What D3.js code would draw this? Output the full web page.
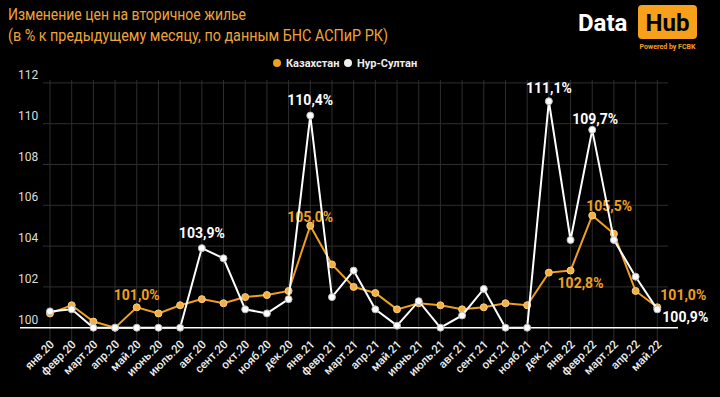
<!DOCTYPE html>
<html>
<head>
<meta charset="utf-8">
<script src="https://cdn.jsdelivr.net/npm/d3@7"></script>
<style>
  body { margin: 0; background: #000; }
  svg { display: block; font-family: Roboto, "Noto Sans", sans-serif; }
</style>
</head>
<body>
<div id="chart"></div>
<script>
var width = 720, height = 397;

var months = ["янв.20","февр.20","март.20","апр.20","май.20","июнь.20","июль.20","авг.20","сент.20","окт.20","нояб.20","дек.20",
              "янв.21","февр.21","март.21","апр.21","май.21","июнь.21","июль.21","авг.21","сент.21","окт.21","нояб.21","дек.21",
              "янв.22","февр.22","март.22","апр.22","май.22"];

var kazakhstan = [100.7,101.1,100.3,100.0,101.0,100.7,101.1,101.4,101.2,101.5,101.6,101.8,
                  105.0,103.1,102.0,101.7,100.9,101.2,101.1,100.9,101.0,101.2,101.1,102.7,
                  102.8,105.5,104.6,101.8,101.0];

var nurSultan = [100.8,100.9,100.0,100.0,100.0,100.0,100.0,103.9,103.4,100.9,100.7,101.4,
                 110.4,101.5,102.8,100.9,100.1,101.3,100.0,100.6,101.9,100.0,100.0,111.1,
                 104.3,109.7,104.3,102.5,100.9];

var yTicks = [100, 102, 104, 106, 108, 110, 112];

// which points get a value label, and where the label sits relative to the point
var kzLabels = [{i: 4, dx: 0, dy: -12}, {i: 12, dx: 0, dy: -9}, {i: 24, dx: 10, dy: 13},
                {i: 25, dx: 17, dy: -9}, {i: 28, dx: 26, dy: -12}];
var nsLabels = [{i: 7, dx: 0, dy: -15}, {i: 12, dx: 0, dy: -15}, {i: 23, dx: 0, dy: -13},
                {i: 25, dx: 3, dy: -11}, {i: 28, dx: 28, dy: 8}];

var orange = "#f0a020", white = "#ffffff";

var svg = d3.select("#chart").append("svg")
    .attr("width", width)
    .attr("height", height);

svg.append("rect").attr("width", width).attr("height", height).attr("fill", "#000");

var x = d3.scalePoint().domain(months).range([50, 657.3]);
var y = d3.scaleLinear().domain([100, 112]).range([327.7, 82.9]);

// title
svg.append("text").attr("x", 8).attr("y", 20)
    .attr("fill", "#eea43c").style("font-size", "16px")
    .attr("textLength", 238).attr("lengthAdjust", "spacingAndGlyphs")
    .text("Изменение цен на вторичное жилье");
svg.append("text").attr("x", 8).attr("y", 41)
    .attr("fill", "#eea43c").style("font-size", "16px")
    .attr("textLength", 380).attr("lengthAdjust", "spacingAndGlyphs")
    .text("(в % к предыдущему месяцу, по данным БНС АСПиР РК)");

// logo
svg.append("text").attr("x", 578).attr("y", 31)
    .attr("fill", "#fff").style("font-size", "24px").style("font-weight", "bold")
    .text("Data");
svg.append("rect").attr("x", 638).attr("y", 5).attr("width", 59).attr("height", 34)
    .attr("rx", 4).attr("fill", "#f7a01c");
svg.append("text").attr("x", 667.5).attr("y", 31).attr("text-anchor", "middle")
    .attr("fill", "#000").style("font-size", "24px").style("font-weight", "bold")
    .text("Hub");
svg.append("text").attr("x", 667.5).attr("y", 49).attr("text-anchor", "middle")
    .attr("fill", "#f7a01c").style("font-size", "7px").style("font-weight", "bold")
    .text("Powered by FCBK");

// legend
var legend = [{name: "Казахстан", color: orange, x: 277}, {name: "Нур-Султан", color: "#eee", x: 348}];
var lg = svg.selectAll(".legend").data(legend).enter().append("g")
    .attr("transform", function(d) { return "translate(" + d.x + ",63)"; });
lg.append("circle").attr("r", 4).attr("fill", function(d) { return d.color; });
lg.append("text").attr("x", 9).attr("dy", ".35em")
    .attr("fill", "#eee").style("font-size", "11px").style("font-weight", "bold")
    .text(function(d) { return d.name; });

// grid
svg.selectAll(".hgrid").data(yTicks.slice(1)).enter().append("line")
    .attr("x1", 43).attr("x2", 668)
    .attr("y1", function(d) { return y(d); }).attr("y2", function(d) { return y(d); })
    .attr("stroke", "#2e2e2e").attr("stroke-width", 1);

svg.selectAll(".vgrid").data(months).enter().append("line")
    .attr("x1", function(d) { return x(d); }).attr("x2", function(d) { return x(d); })
    .attr("y1", 80).attr("y2", 347)
    .attr("stroke", "#2e2e2e").attr("stroke-width", 1);

svg.append("line").attr("x1", 20).attr("x2", 678)
    .attr("y1", y(100)).attr("y2", y(100))
    .attr("stroke", "#fff").attr("stroke-width", 1.5);

// y tick labels
svg.selectAll(".ytick").data(yTicks).enter().append("text")
    .attr("x", 18).attr("y", function(d) { return y(d) - 4; })
    .attr("fill", "#ddd").style("font-size", "12px")
    .text(function(d) { return d; });

// x tick labels
svg.selectAll(".xtick").data(months).enter().append("text")
    .attr("text-anchor", "end")
    .attr("transform", function(d) { return "translate(" + (x(d) + 5) + ",345) rotate(-45)"; })
    .attr("fill", "#eee").style("font-size", "11.5px").style("font-weight", "500")
    .text(function(d) { return d; });

var line = d3.line()
    .x(function(d, i) { return x(months[i]); })
    .y(function(d) { return y(d); });

var fmt = function(v) { return d3.format(".1f")(v).replace(".", ",") + "%"; };

function drawSeries(values, color, pointFill, pointStroke, labels) {
    svg.append("path").datum(values)
        .attr("d", line).attr("fill", "none")
        .attr("stroke", color).attr("stroke-width", 2);
    svg.selectAll(null).data(values).enter().append("circle")
        .attr("cx", function(d, i) { return x(months[i]); })
        .attr("cy", function(d) { return y(d); })
        .attr("r", 3.5)
        .attr("fill", pointFill).attr("stroke", pointStroke).attr("stroke-width", 1);
    svg.selectAll(null).data(labels).enter().append("text")
        .attr("x", function(d) { return x(months[d.i]) + d.dx; })
        .attr("y", function(d) { return y(values[d.i]) + d.dy; })
        .attr("dy", ".35em").attr("text-anchor", "middle")
        .attr("fill", color).style("font-size", "14px").style("font-weight", "bold")
        .text(function(d) { return fmt(values[d.i]); });
}

drawSeries(kazakhstan, orange, "#f2b042", "#fbd28a", kzLabels);
drawSeries(nurSultan, white, "#ffffff", "#bbbbbb", nsLabels);
</script>
</body>
</html>
